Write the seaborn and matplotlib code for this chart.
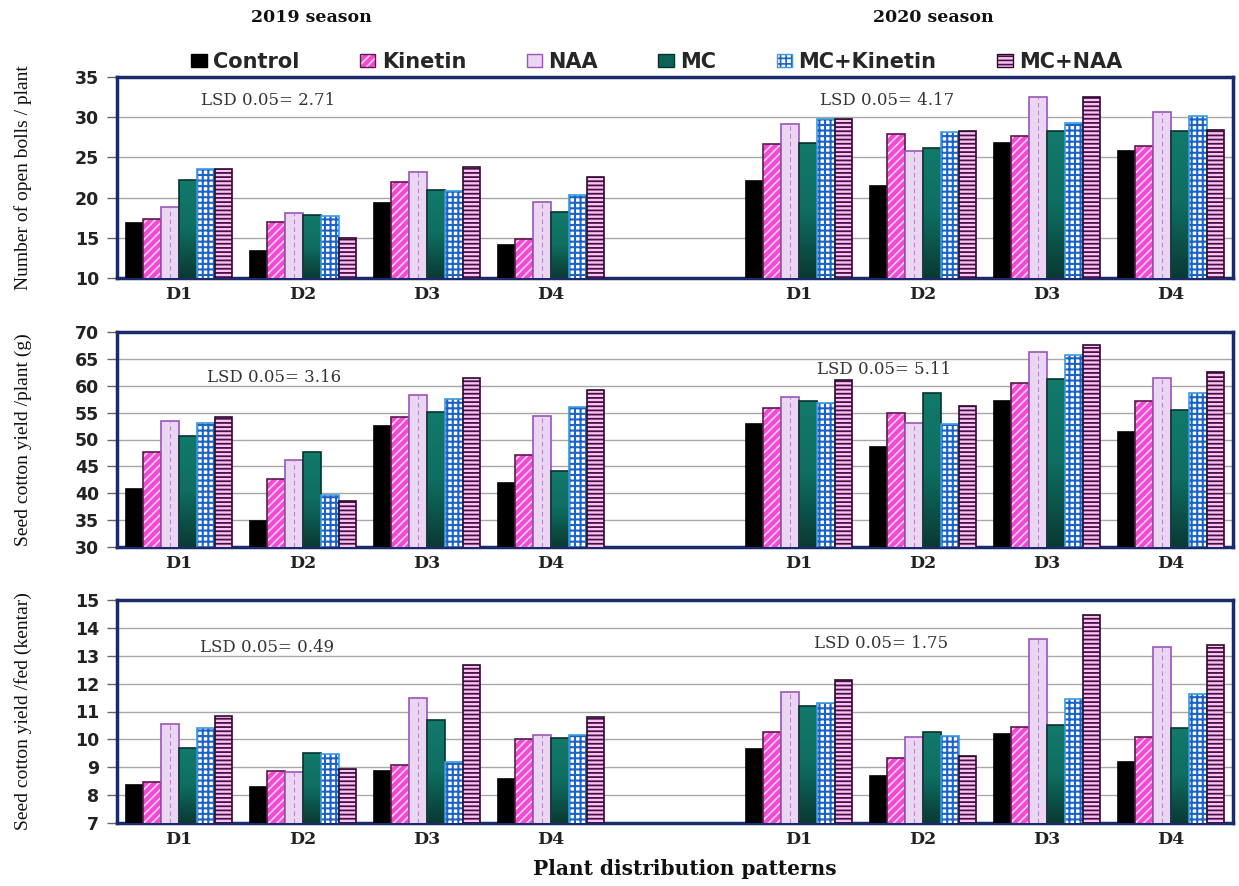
import matplotlib
matplotlib.use("Agg")
import matplotlib.pyplot as plt
import matplotlib.patches as mpatches
from matplotlib.colors import to_rgba, LinearSegmentedColormap
import numpy as np
import pandas as pd
import seaborn as sns

# ---------------- data ----------------
treatments = ["Control", "Kinetin", "NAA", "MC", "MC+Kinetin", "MC+NAA"]
distributions = ["D1", "D2", "D3", "D4"]
seasons = ["2019 season", "2020 season"]

# rows = treatments (Control, Kinetin, NAA, MC, MC+Kinetin, MC+NAA), cols = D1..D4
bolls_2019 = [[16.8, 13.3, 19.3, 14.1],
              [17.4, 17.0, 21.9, 14.8],
              [18.8, 18.1, 23.2, 19.5],
              [22.2, 17.8, 21.0, 18.2],
              [23.5, 17.7, 20.8, 20.3],
              [23.6, 15.0, 23.8, 22.6]]
bolls_2020 = [[22.1, 21.5, 26.8, 25.8],
              [26.7, 27.9, 27.7, 26.4],
              [29.1, 25.8, 32.5, 30.7],
              [26.8, 26.2, 28.3, 28.3],
              [29.8, 28.1, 29.3, 30.1],
              [29.8, 28.3, 32.5, 28.4]]
yield_plant_2019 = [[40.8, 34.8, 52.6, 42.0],
                    [47.7, 42.7, 54.2, 47.1],
                    [53.4, 46.1, 58.2, 54.3],
                    [50.7, 47.7, 55.1, 44.2],
                    [53.0, 39.7, 57.5, 56.0],
                    [54.2, 38.5, 61.4, 59.2]]
yield_plant_2020 = [[52.9, 48.6, 57.1, 51.4],
                    [55.8, 55.0, 60.6, 57.1],
                    [58.0, 53.1, 66.3, 61.4],
                    [57.1, 58.6, 61.3, 55.4],
                    [56.8, 52.9, 65.8, 58.6],
                    [61.0, 56.2, 67.6, 62.5]]
yield_fed_2019 = [[8.38, 8.28, 8.86, 8.59],
                  [8.48, 8.88, 9.09, 10.00],
                  [10.55, 8.82, 11.47, 10.16],
                  [9.68, 9.51, 10.69, 10.04],
                  [10.41, 9.48, 9.18, 10.16],
                  [10.85, 8.95, 12.66, 10.80]]
yield_fed_2020 = [[9.67, 8.69, 10.18, 9.19],
                  [10.25, 9.32, 10.43, 10.10],
                  [11.71, 10.07, 13.59, 13.32],
                  [11.20, 10.28, 10.50, 10.40],
                  [11.31, 10.13, 11.45, 11.62],
                  [12.13, 9.41, 14.45, 13.40]]

lsd_2019 = ["LSD 0.05= 2.71", "LSD 0.05= 3.16", "LSD 0.05= 0.49"]
lsd_2020 = ["LSD 0.05= 4.17", "LSD 0.05= 5.11", "LSD 0.05= 1.75"]
y_labels = ["Number of open bolls / plant",
            "Seed cotton yield /plant (g)",
            "Seed cotton yield /fed (kentar)"]
y_limits = [(10, 35), (30, 70), (7, 15)]
y_steps = [5, 5, 1]
x_label = "Plant distribution patterns"

# ---------------- style ----------------
sns.set_theme(style="white")
plt.rcParams["font.family"] = ["DejaVu Sans"]
plt.rcParams["hatch.linewidth"] = 1.2

NAVY = "#1B2A6B"
styles = {
    "Control":    dict(fc="#000000", ec="#000000", hatch=None, hc=None, hlw=1.0),
    "Kinetin":    dict(fc="#F24BD2", ec="#5A1A4A", hatch="////", hc="#FFD0F4", hlw=1.2),
    "NAA":        dict(fc="#EAD5F3", ec="#9A55B5", hatch=None, hc=None, hlw=1.0),
    "MC":         dict(fc="#0C6458", ec="#06332E", hatch=None, hc=None, hlw=1.0),
    "MC+Kinetin": dict(fc="#FFFFFF", ec="#3A9BE0", hatch="+++", hc="#1C63C8", hlw=1.5),
    "MC+NAA":     dict(fc="#F9C4F0", ec="#2A0A2A", hatch="----", hc="#4A0E48", hlw=1.3),
}
mc_cmap = LinearSegmentedColormap.from_list("mc", ["#0A3A34", "#0E6E61", "#12796B"])


def style_patch(p, st, lw=1.2):
    p.set_facecolor(st["fc"])
    p.set_edgecolor(st["ec"])
    p.set_linewidth(lw)
    if st["hatch"]:
        p.set_hatch(st["hatch"])
        p._hatch_color = to_rgba(st["hc"])
        if hasattr(p, "set_hatch_linewidth"):
            p.set_hatch_linewidth(st["hlw"])


def panel_frame(v2019, v2020):
    rows = []
    for key, vals in (("2019", v2019), ("2020", v2020)):
        for ti, t in enumerate(treatments):
            for di, d in enumerate(distributions):
                rows.append({"slot": f"{key} {d}", "treatment": t, "value": vals[ti][di]})
    return pd.DataFrame(rows)


order = [f"2019 {d}" for d in distributions] + ["gap"] + [f"2020 {d}" for d in distributions]
tick_text = distributions + [""] + distributions

W, H = 1239, 886
fig = plt.figure(figsize=(W / 100, H / 100), dpi=100)

panel_px = [(77, 278), (332, 547), (600, 823)]
left_px, right_px = 117, 1233
lsd_pos = [((0.075, 0.885), (0.630, 0.885)),
           ((0.081, 0.79), (0.627, 0.825)),
           ((0.074, 0.785), (0.625, 0.805))]

panels = [(bolls_2019, bolls_2020), (yield_plant_2019, yield_plant_2020),
          (yield_fed_2019, yield_fed_2020)]
grad = np.linspace(0, 1, 64).reshape(-1, 1)

axes = []
for i, ((top, bot), (v19, v20)) in enumerate(zip(panel_px, panels)):
    ax = fig.add_axes([left_px / W, 1 - bot / H, (right_px - left_px) / W, (bot - top) / H])
    axes.append(ax)
    df = panel_frame(v19, v20)
    sns.barplot(data=df, x="slot", y="value", hue="treatment", order=order,
                hue_order=treatments, width=0.86, errorbar=None, saturation=1,
                legend=False, ax=ax, zorder=3)
    lo, hi = y_limits[i]
    for t, cont in zip(treatments, ax.containers):
        for p in cont:
            style_patch(p, styles[t])
            p.set_zorder(3)
        if t == "NAA":
            for p in cont:
                cx = p.get_x() + p.get_width() / 2
                ax.plot([cx, cx], [lo, p.get_height()], color="#B58AC6", lw=0.8,
                        ls=(0, (4, 3)), zorder=4)
        if t == "MC":
            for p in cont:
                x0 = p.get_x()
                im = ax.imshow(grad, extent=[x0, x0 + p.get_width(), lo, p.get_height()],
                               origin="lower", cmap=mc_cmap, aspect="auto", zorder=2.9,
                               interpolation="bilinear")
                im.set_clip_path(p)
                p.set_facecolor("none")
    ax.set_ylim(lo, hi)
    ax.set_xlim(-0.5, len(order) - 0.5)
    ax.set_yticks(range(lo, hi + 1, y_steps[i]))
    ax.set_xticks(range(len(order)))
    ax.set_xticklabels(tick_text, fontfamily="DejaVu Serif", fontweight="bold",
                       fontsize=12.5, color="#222222")
    for lab in ax.get_yticklabels():
        lab.set_fontweight("bold")
        lab.set_fontsize(12.5)
        lab.set_color("#222222")
    ax.tick_params(axis="y", direction="out", length=7, width=1, color="#666666", pad=6, left=True)
    ax.tick_params(axis="x", length=0, pad=6)
    ax.yaxis.grid(True, color="#A8A8A8", lw=1.0, zorder=0)
    ax.set_axisbelow(True)
    for s in ax.spines.values():
        s.set_visible(True)
        s.set_color(NAVY)
        s.set_linewidth(2.5)
    ax.set_xlabel("")
    ax.set_ylabel(y_labels[i], fontfamily="Liberation Serif", fontsize=14, color="#111111")
    ax.yaxis.set_label_coords(-0.076, 0.5)
    (x1, y1), (x2, y2) = lsd_pos[i]
    ax.text(x1, y1, lsd_2019[i], transform=ax.transAxes, fontfamily="DejaVu Serif",
            fontsize=12, color="#333333", va="center", ha="left", zorder=5)
    ax.text(x2, y2, lsd_2020[i], transform=ax.transAxes, fontfamily="DejaVu Serif",
            fontsize=12, color="#333333", va="center", ha="left", zorder=5)

axes[-1].set_xlabel(x_label, fontfamily="DejaVu Serif", fontweight="bold", fontsize=14.5,
                    color="#111111")
axes[-1].xaxis.set_label_coords(0.509, -0.16)

# season titles
fig.text(0.251, 1 - 18 / H, seasons[0], fontfamily="DejaVu Serif", fontweight="bold",
         fontsize=12.5, ha="center", va="center", color="#111111")
fig.text(0.753, 1 - 18 / H, seasons[1], fontfamily="DejaVu Serif", fontweight="bold",
         fontsize=12.5, ha="center", va="center", color="#111111")

# legend
handles = []
for t in treatments:
    st = styles[t]
    h = mpatches.Patch(label=t)
    style_patch(h, st, lw=1.0)
    handles.append(h)
handles[3].set_facecolor("#0C6458")
fig.legend(handles=handles, loc="center", bbox_to_anchor=(0.53, 1 - 62 / H), ncol=6,
           frameon=False, handlelength=0.75, handleheight=0.6, handletextpad=0.3,
           columnspacing=2.9, prop=dict(family="DejaVu Sans", weight="bold", size=15))

fig.savefig("out.png", dpi=100)
